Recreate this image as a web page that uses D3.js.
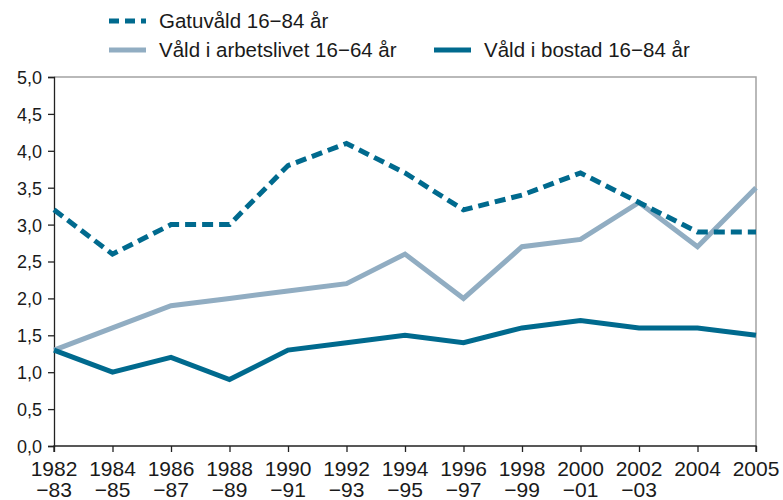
<!DOCTYPE html>
<html>
<head>
<meta charset="utf-8">
<script src="https://cdn.jsdelivr.net/npm/d3@7"></script>
<style>
  body { margin: 0; background: #fff; }
  text { font-family: "Liberation Sans", Arial, sans-serif; fill: #1a1a1a; }
</style>
</head>
<body>
<div id="chart"></div>
<script>
const periods = ["1982–83", "1984–85", "1986–87", "1988–89", "1990–91", "1992–93", "1994–95",
  "1996–97", "1998–99", "2000–01", "2002–03", "2004", "2005"];
const tickTop = ["1982", "1984", "1986", "1988", "1990", "1992", "1994", "1996", "1998", "2000", "2002", "2004", "2005"];
const tickBottom = ["−83", "−85", "−87", "−89", "−91", "−93", "−95", "−97", "−99", "−01", "−03", "", ""];

const gatuvald = [3.2, 2.6, 3.0, 3.0, 3.8, 4.1, 3.7, 3.2, 3.4, 3.7, 3.3, 2.9, 2.9];
const arbetslivet = [1.3, 1.6, 1.9, 2.0, 2.1, 2.2, 2.6, 2.0, 2.7, 2.8, 3.3, 2.7, 3.5];
const bostad = [1.3, 1.0, 1.2, 0.9, 1.3, 1.4, 1.5, 1.4, 1.6, 1.7, 1.6, 1.6, 1.5];

const yTicks = [0, 0.5, 1, 1.5, 2, 2.5, 3, 3.5, 4, 4.5, 5];

const DARK = "#006a8e";
const LIGHT = "#91adc2";

const svg = d3.select("#chart").append("svg")
  .attr("width", 783)
  .attr("height", 500)

const xScale = d3.scalePoint()
  .domain(periods)
  .range([54, 756]);

const yScale = d3.scaleLinear()
  .domain([0, 5])
  .range([446, 77]);

// frame top + right
svg.append("path")
  .attr("d", `M54,${yScale(5)}H756V${yScale(0)}`)
  .attr("fill", "none")
  .attr("stroke", "#a3a3a3")
  .attr("stroke-width", 1.5)

// y axis
const yAxis = svg.append("g")
  .attr("transform", "translate(54,0)")
  .call(d3.axisLeft(yScale).tickValues(yTicks).tickSize(6).tickPadding(6)
    .tickFormat(d => d3.format(".1f")(d).replace(".", ",")))
yAxis.selectAll("path, line").attr("stroke", "#222").attr("stroke-width", 1.3)
yAxis.selectAll("text").style("font-size", "18px").attr("dy", "0.36em")

// x axis
const xAxis = svg.append("g")
  .attr("transform", `translate(0,${yScale(0)})`)
  .call(d3.axisBottom(xScale).tickSize(6).tickFormat(""))
xAxis.selectAll("path, line").attr("stroke", "#222").attr("stroke-width", 1.3)
xAxis.select(".domain").attr("d", `M54,6V0H756V6`)

const xLabels = svg.append("g")
periods.forEach((p, i) => {
  const t = xLabels.append("text")
    .attr("x", xScale(p))
    .attr("y", 476)
    .attr("text-anchor", "middle")
    .style("font-size", "21px")
  t.append("tspan").attr("x", xScale(p)).text(tickTop[i])
  t.append("tspan").attr("x", xScale(p)).attr("dy", 21).text(tickBottom[i])
})

const line = d3.line()
  .x((d, i) => xScale(periods[i]))
  .y(d => yScale(d));

svg.append("path")
  .datum(arbetslivet)
  .attr("d", line)
  .attr("fill", "none")
  .attr("stroke", LIGHT)
  .attr("stroke-width", 5)

svg.append("path")
  .datum(bostad)
  .attr("d", line)
  .attr("fill", "none")
  .attr("stroke", DARK)
  .attr("stroke-width", 5)

svg.append("path")
  .datum(gatuvald)
  .attr("d", line)
  .attr("fill", "none")
  .attr("stroke", DARK)
  .attr("stroke-width", 5)
  .attr("stroke-dasharray", "11 6")

// legend
const legend = [
  { label: "Gatuvåld 16−84 år", color: DARK, dash: "10 6", x: 109, y: 21 },
  { label: "Våld i arbetslivet 16−64 år", color: LIGHT, dash: null, x: 109, y: 50 },
  { label: "Våld i bostad 16−84 år", color: DARK, dash: null, x: 434, y: 50 }
];
legend.forEach(l => {
  svg.append("line")
    .attr("x1", l.x).attr("x2", l.x + 37)
    .attr("y1", l.y).attr("y2", l.y)
    .attr("stroke", l.color)
    .attr("stroke-width", 5)
    .attr("stroke-dasharray", l.dash)
  svg.append("text")
    .attr("x", l.x + 50)
    .attr("y", l.y)
    .attr("dy", "0.36em")
    .style("font-size", "20.5px")
    .text(l.label)
})
</script>
</body>
</html>
